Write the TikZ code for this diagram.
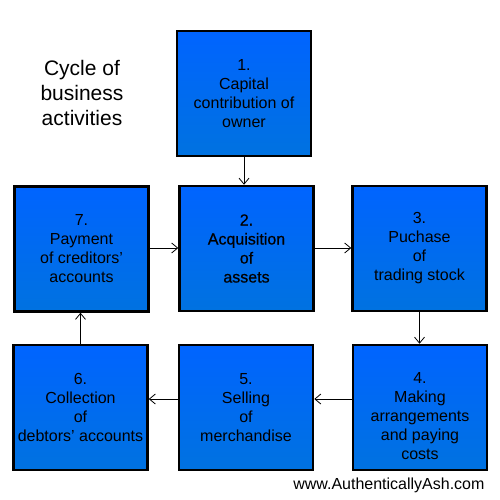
\documentclass[tikz,border=0pt]{standalone}
\usepackage{fontspec}
\setmainfont{Liberation Sans}
\newfontfamily\fbfont[FakeBold=0.6]{Liberation Sans}
\usetikzlibrary{arrows.meta}
\definecolor{boxtop}{HTML}{0064FF}
\definecolor{boxbot}{HTML}{0072E0}
\tikzset{
  stagebox/.style={draw=black, line width=2.5pt, top color=boxtop, bottom color=boxbot,
    minimum width=134pt, minimum height=125pt, align=center, inner sep=0pt,
    text=black, font=\fontsize{16}{19}\selectfont},
  flow/.style={draw=black, line width=0.8pt, -{Straight Barb[length=6pt,width=10pt,line width=0.8pt]}}
}
\begin{document}
\begin{tikzpicture}[x=1pt,y=-1pt]
\useasboundingbox (0,0) rectangle (500,500);
\fill[white] (0,0) rectangle (500,500);
\node[align=center, font=\fontsize{21}{25}\selectfont] (title) at (82,93) {Cycle of\\business\\activities};
\node[stagebox] (b1) at (244,93.5) {1.\\Capital\\contribution of\\owner};
\node[stagebox] (b7) at (81.5,249) {7.\\Payment\\of creditors’\\accounts};
\node[stagebox, font=\fbfont\fontsize{16}{19}\selectfont] (b2) at (246.5,248.5) {2.\\Acquisition\\of\\assets};
\node[stagebox] (b3) at (419.5,248.5) {3.\\Puchase\\of\\trading stock};
\node[stagebox] (b6) at (80.5,407.5) {6.\\Collection\\of\\debtors’ accounts};
\node[stagebox] (b5) at (246,407.5) {5.\\Selling\\of\\merchandise};
\node[stagebox, align=none] (b4) at (420,407.5) {\raisebox{-15pt}[0pt][0pt]{\setlength{\tabcolsep}{0pt}\begin{tabular}{c}4.\\Making\\arrangements\\and paying\\costs\end{tabular}}};
\node[anchor=east, font=\fontsize{16}{19}\selectfont] (web) at (488,485) {www.AuthenticallyAsh.com};
\draw[flow] (b1.south) -- (b1.south |- b2.north);
\draw[flow] (b7.east |- 0,248) -- (b2.west |- 0,248);
\draw[flow] (b2.east |- 0,248) -- (b3.west |- 0,248);
\draw[flow] (b3.south) -- (b3.south |- b4.north);
\draw[flow] (b4.west |- 0,399) -- (b5.east |- 0,399);
\draw[flow] (b5.west |- 0,399) -- (b6.east |- 0,399);
\draw[flow] (b6.north) -- (b6.north |- b7.south);
\end{tikzpicture}
\end{document}
